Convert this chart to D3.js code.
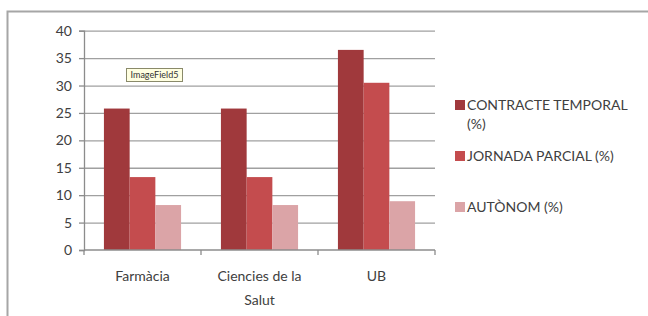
<!DOCTYPE html>
<html>
<head>
<meta charset="utf-8">
<script src="https://cdn.jsdelivr.net/npm/d3@7"></script>
<style>
  body { margin: 0; background: #fff; }
  text { font-family: Lato, "Open Sans", sans-serif; }
</style>
</head>
<body>
<div id="chart"></div>
<script>
const categories = ["Farmàcia", "Ciencies de la Salut", "UB"]
const tickLabels = [["Farmàcia"], ["Ciencies de la", "Salut"], ["UB"]]
const series = ["CONTRACTE TEMPORAL (%)", "JORNADA PARCIAL (%)", "AUTÒNOM (%)"]
const legendLabels = [["CONTRACTE TEMPORAL", "(%)"], ["JORNADA PARCIAL (%)"], ["AUTÒNOM (%)"]]
const contracteTemporal = [25.8, 25.8, 36.5]
const jornadaParcial = [13.3, 13.3, 30.5]
const autonom = [8.2, 8.2, 8.9]
const yTicks = [0, 5, 10, 15, 20, 25, 30, 35, 40]

const values = [contracteTemporal, jornadaParcial, autonom]
const colors = ["#a0393c", "#c44c4e", "#dba4a7"]

const W = 648, H = 316
const PLOT = { LEFT: 84, RIGHT: 435, TOP: 30.7, BOTTOM: 250 }

const svg = d3.select("#chart")
  .append("svg")
    .attr("width", W)
    .attr("height", H)

svg.append("rect")
  .attr("width", W).attr("height", H)
  .attr("fill", "#fff")

// outer frame (runs off the right and bottom edge)
svg.append("rect")
  .attr("x", 7.5).attr("y", 11.5)
  .attr("width", 700).attr("height", 400)
  .attr("fill", "none")
  .attr("stroke", "#a6a6a6")
  .attr("stroke-width", 2)

const x = d3.scaleBand()
  .domain(categories)
  .range([PLOT.LEFT, PLOT.RIGHT])
  .padding(0)

const x1 = d3.scaleBand()
  .domain(series)
  .range([0, x.bandwidth()])
  .paddingInner(0)
  .paddingOuter(0.775)

const y = d3.scaleLinear()
  .domain([0, 40])
  .range([PLOT.BOTTOM, PLOT.TOP])

// gridlines
const grid = svg.append("g")
  .attr("transform", `translate(${PLOT.LEFT}, 0)`)
  .call(d3.axisLeft(y).tickValues(yTicks.slice(1)).tickSize(-(PLOT.RIGHT - PLOT.LEFT)).tickFormat(""))
grid.select(".domain").remove()
grid.selectAll("line").attr("stroke", "#a0a0a0").attr("stroke-width", 1.3)

// bars
const groups = svg.selectAll("g.cat")
  .data(categories)
  .enter().append("g")
    .attr("class", "cat")
    .attr("transform", d => `translate(${x(d)}, 0)`)

groups.selectAll("rect")
  .data((d, i) => series.map((s, j) => ({ s, v: values[j][i], c: colors[j] })))
  .enter().append("rect")
    .attr("x", d => x1(d.s))
    .attr("y", d => y(d.v))
    .attr("width", x1.bandwidth())
    .attr("height", d => y(0) - y(d.v))
    .attr("fill", d => d.c)

// y axis
const yAxis = svg.append("g")
  .attr("transform", `translate(${PLOT.LEFT}, 0)`)
  .call(d3.axisLeft(y).tickValues(yTicks).tickSize(5).tickPadding(7))
yAxis.select(".domain").attr("stroke", "#8c8c8c").attr("stroke-width", 1.3)
yAxis.selectAll("line").attr("stroke", "#8c8c8c").attr("stroke-width", 1.3)
yAxis.selectAll("text")
  .attr("font-size", 14)
  .attr("fill", "#404040")
  .style("font-family", "Lato, sans-serif")

// x axis
const xAxis = svg.append("g")
  .attr("transform", `translate(0, ${PLOT.BOTTOM})`)
xAxis.append("line")
  .attr("x1", PLOT.LEFT).attr("x2", PLOT.RIGHT)
  .attr("stroke", "#8c8c8c").attr("stroke-width", 1.3)
const edges = categories.map(c => x(c)).concat([x(categories[categories.length - 1]) + x.bandwidth()])
xAxis.selectAll("line.tick")
  .data(edges)
  .enter().append("line")
    .attr("class", "tick")
    .attr("x1", d => d).attr("x2", d => d)
    .attr("y1", 0).attr("y2", 5)
    .attr("stroke", "#8c8c8c").attr("stroke-width", 1.3)

xAxis.selectAll("text.cat")
  .data(categories)
  .enter().append("text")
    .attr("class", "cat")
    .attr("x", d => x(d) + x.bandwidth() / 2)
    .attr("y", 31)
    .attr("text-anchor", "middle")
    .attr("font-size", 14)
    .attr("fill", "#404040")
  .selectAll("tspan")
  .data((d, i) => tickLabels[i])
  .enter().append("tspan")
    .attr("x", function () { return d3.select(this.parentNode).attr("x") })
    .attr("dy", (d, i) => i ? 24 : 0)
    .text(d => d)

// legend
const legendY = [105, 156, 207]
const legend = svg.selectAll("g.legend")
  .data(series)
  .enter().append("g")
    .attr("class", "legend")
    .attr("transform", (d, i) => `translate(455, ${legendY[i]})`)

legend.append("rect")
  .attr("x", 0).attr("y", -5)
  .attr("width", 10).attr("height", 10)
  .attr("fill", (d, i) => colors[i])

legend.append("text")
  .attr("x", 12)
  .attr("y", 5)
  .attr("font-size", 14)
  .attr("fill", "#404040")
  .selectAll("tspan")
  .data((d, i) => legendLabels[i])
  .enter().append("tspan")
    .attr("x", 12)
    .attr("dy", (d, i) => i ? 19 : 0)
    .text(d => d)

// leftover field tooltip from the source document
const tip = svg.append("g").attr("transform", "translate(126.5, 68.5)")
tip.append("rect")
  .attr("width", 56).attr("height", 13)
  .attr("fill", "#ffffe1")
  .attr("stroke", "#8a8a6a")
tip.append("text")
  .attr("x", 28).attr("y", 9.5)
  .attr("text-anchor", "middle")
  .attr("font-size", 9)
  .attr("fill", "#333")
  .text("ImageField5")
</script>
</body>
</html>
